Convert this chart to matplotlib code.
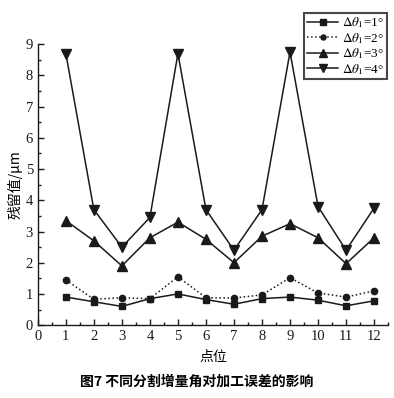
import matplotlib
matplotlib.use('Agg')
import matplotlib.pyplot as plt
from matplotlib.ticker import MultipleLocator

plt.rcParams['font.family'] = ['Liberation Serif', 'Noto Sans CJK SC']
plt.rcParams['mathtext.fontset'] = 'stix'

points = list(range(1, 13))
err_1deg = [0.90, 0.75, 0.60, 0.85, 1.00, 0.82, 0.67, 0.85, 0.90, 0.80, 0.62, 0.78]
err_2deg = [1.45, 0.83, 0.88, 0.85, 1.55, 0.88, 0.87, 0.97, 1.52, 1.03, 0.90, 1.10]
err_3deg = [3.35, 2.70, 1.90, 2.80, 3.30, 2.75, 2.00, 2.85, 3.25, 2.80, 1.97, 2.80]
err_4deg = [8.70, 3.70, 2.50, 3.45, 8.70, 3.70, 2.40, 3.70, 8.75, 3.80, 2.40, 3.75]
labels = [r'$\Delta\theta_1$=1°', r'$\Delta\theta_1$=2°',
          r'$\Delta\theta_1$=3°', r'$\Delta\theta_1$=4°']

fig = plt.figure(figsize=(3.94, 3.98), dpi=100, facecolor='white')
ax = fig.add_axes([0.096, 0.183, 0.889, 0.706])

ink = '#1a1a1a'
ax.plot(points, err_1deg, '-', marker='s', color=ink, lw=1.1, ms=5, label=labels[0])
ax.plot(points, err_2deg, ':', marker='o', color=ink, lw=1.1, ms=4.5, label=labels[1])
ax.plot(points, err_3deg, '-', marker='^', color=ink, lw=1.1, ms=6.5, label=labels[2])
ax.plot(points, err_4deg, '-', marker='v', color=ink, lw=1.1, ms=6.5, label=labels[3])

ax.set_xlim(0, 12.5)
ax.set_ylim(0, 9)
ax.xaxis.set_major_locator(MultipleLocator(1))
ax.xaxis.set_minor_locator(MultipleLocator(0.5))
ax.yaxis.set_major_locator(MultipleLocator(1))
ax.yaxis.set_minor_locator(MultipleLocator(0.5))
ax.tick_params(which='both', direction='in', labelsize=10.5, colors=ink, width=1)
ax.tick_params(which='major', length=4)
ax.tick_params(which='minor', length=2)
for s in ['top', 'right']:
    ax.spines[s].set_visible(False)
for s in ['left', 'bottom']:
    ax.spines[s].set_linewidth(1.0)
    ax.spines[s].set_color(ink)

ax.set_xlabel('点位', fontsize=10, labelpad=5, family=['Noto Sans CJK SC'])
ax.set_ylabel('残留值/μm', fontsize=10, labelpad=2, family=['Noto Sans CJK SC', 'Liberation Serif'])

leg = ax.legend(loc='upper right', bbox_to_anchor=(0.982, 0.968),
                bbox_transform=fig.transFigure, fontsize=9.5,
                frameon=True, fancybox=False, edgecolor=ink, handlelength=2.4,
                handletextpad=0.3, borderpad=0.2, labelspacing=0.05, borderaxespad=0,
                markerscale=0.8)
leg.get_frame().set_linewidth(1.5)

fig.text(0.5, 0.04, '图7 不同分割增量角对加工误差的影响', ha='center', va='center',
         fontsize=10, fontweight='bold', family=['Noto Sans CJK SC'])

fig.savefig('out.png', dpi=100, facecolor='white')
